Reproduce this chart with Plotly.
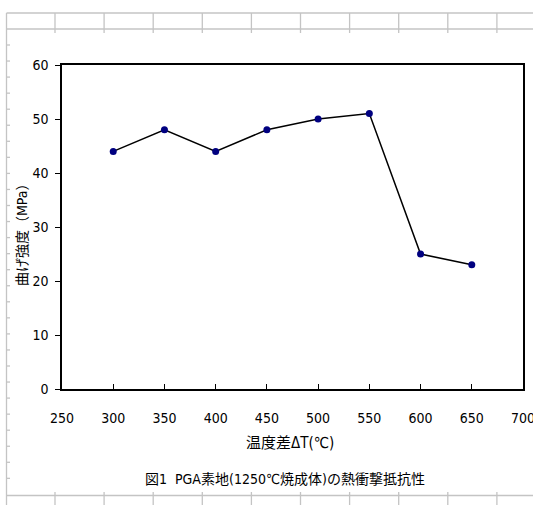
import plotly.graph_objects as go

# Data
temp_diff = [300, 350, 400, 450, 500, 550, 600, 650]
strength = [44, 48, 44, 48, 50, 51, 25, 23]
x_ticks = [250, 300, 350, 400, 450, 500, 550, 600, 650, 700]
y_ticks = [0, 10, 20, 30, 40, 50, 60]

W, H = 533, 505
L, R, T, B = 62, 523, 65, 389  # plot area in pixels

def px(x):
    return (x - L) / (R - L)

def py(y):
    return (B - y) / (B - T)

FONT = "DejaVu Sans Condensed, Noto Sans CJK JP, sans-serif"

fig = go.Figure()
fig.add_trace(go.Scatter(
    x=temp_diff, y=strength, mode="lines+markers",
    line=dict(color="black", width=1.5),
    marker=dict(color="#000080", size=7, line=dict(width=0)),
    showlegend=False, hoverinfo="skip", cliponaxis=False,
))

# spreadsheet background grid (decorative)
gc = "#c4c4c4"
shapes = []
def hline(y, x0, x1):
    shapes.append(dict(type="line", xref="paper", yref="paper",
                       x0=px(x0), x1=px(x1), y0=py(y), y1=py(y),
                       line=dict(color=gc, width=1.3), layer="below"))
def vline(x, y0, y1):
    shapes.append(dict(type="line", xref="paper", yref="paper",
                       x0=px(x), x1=px(x), y0=py(y0), y1=py(y1),
                       line=dict(color=gc, width=1.3), layer="below"))

hline(13, 6.5, 533)
hline(29, 6.5, 533)
hline(495.5, 6.5, 533)
vline(6.5, 13, 505)
cols = [55 + 49.1 * k for k in range(10)]
for c in cols:
    vline(c, 13, 33)
    vline(c, 492, 505)
k = 0
while True:
    yy = 45 + 16.05 * k
    if yy > 490:
        break
    hline(yy, 6.5, 10)
    k += 1

annotations = [
    dict(text="温度差ΔT(℃)", xref="paper", yref="paper",
         x=px(290), y=py(443), showarrow=False,
         font=dict(family=FONT, size=15, color="black"),
         xanchor="center", yanchor="middle"),
    dict(text="図1  PGA素地(1250℃焼成体)の熱衝撃抵抗性", xref="paper", yref="paper",
         x=px(285), y=py(479), showarrow=False,
         font=dict(family=FONT, size=14, color="black"),
         xanchor="center", yanchor="middle"),
    dict(text="曲げ強度（MPa）", xref="paper", yref="paper",
         x=px(22), y=py(231), showarrow=False, textangle=-90,
         font=dict(family=FONT, size=14, color="black"),
         xanchor="center", yanchor="middle"),
]

fig.update_layout(
    width=W, height=H,
    margin=dict(l=L, r=W - R, t=T, b=H - B, pad=0, autoexpand=False),
    paper_bgcolor="white", plot_bgcolor="white",
    shapes=shapes, annotations=annotations,
    font=dict(family=FONT, size=14, color="black"),
)
fig.update_xaxes(
    range=[250, 700], tickvals=x_ticks, ticktext=[str(v) for v in x_ticks],
    showgrid=False, zeroline=False, automargin=False,
    ticklabeloverflow="allow",
    showline=True, linecolor="black", linewidth=1.5, mirror=True,
    ticks="inside", ticklen=5, tickcolor="black", tickwidth=1,
    ticklabelstandoff=15,
    tickfont=dict(family=FONT, size=14, color="black"),
)
fig.update_yaxes(
    range=[0, 60], tickvals=y_ticks, ticktext=[str(v) for v in y_ticks],
    showgrid=False, zeroline=False, automargin=False,
    ticklabeloverflow="allow",
    showline=True, linecolor="black", linewidth=1.5, mirror=True,
    ticks="outside", ticklen=5, tickcolor="black", tickwidth=1,
    ticklabelstandoff=4,
    tickfont=dict(family=FONT, size=14, color="black"),
)

fig.write_html("out.html")
